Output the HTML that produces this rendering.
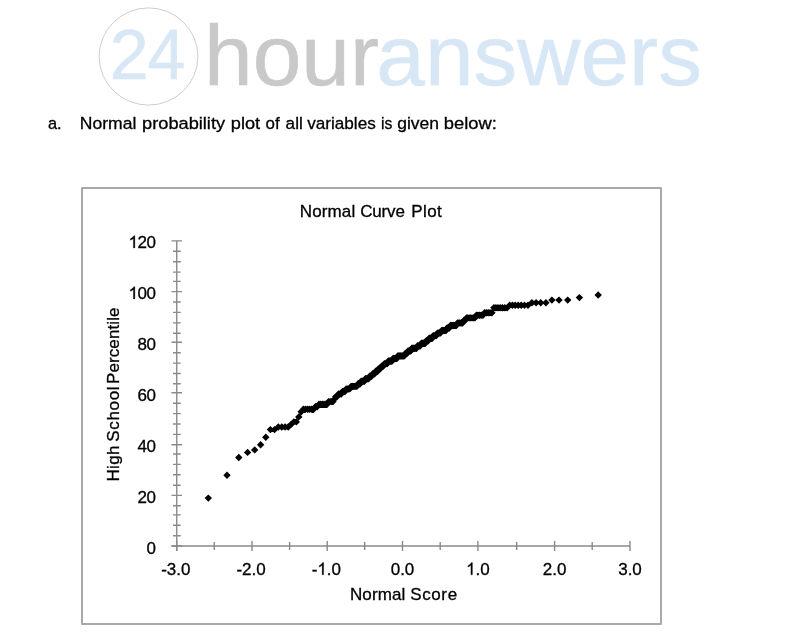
<!DOCTYPE html>
<html><head><meta charset="utf-8"><title>Normal Curve Plot</title>
<style>
html,body{margin:0;padding:0;background:#fff;}
body{width:790px;height:634px;position:relative;overflow:hidden;font-family:"Liberation Sans",sans-serif;}
svg{position:absolute;left:0;top:0;will-change:transform;}
svg text{font-family:"Liberation Sans",sans-serif;font-kerning:none;}
</style></head><body>
<svg width="790" height="634" viewBox="0 0 790 634">
<!-- watermark -->
<ellipse cx="148.5" cy="56.5" rx="49.4" ry="48.6" fill="none" stroke="#cdcdcd" stroke-width="1"/>
<g fill="#d8e7f5">
<text x="109.73" y="78.6" textLength="38.94" lengthAdjust="spacingAndGlyphs" font-size="70.5" stroke="#d8e7f5" stroke-width="0.5">2</text>
<text x="147.59" y="78.6" textLength="37.75" lengthAdjust="spacingAndGlyphs" font-size="70.5" stroke="#d8e7f5" stroke-width="0.5">4</text>
<text x="376.29" y="85.35" textLength="325.57" lengthAdjust="spacingAndGlyphs" font-size="85" stroke="#d8e7f5" stroke-width="0.6">answers</text>
</g>
<g fill="#c9c9c9"><text x="204.03" y="85.35" textLength="175.12" lengthAdjust="spacingAndGlyphs" font-size="85" stroke="#c9c9c9" stroke-width="0.6">hour</text></g>
<!-- caption -->
<g font-size="16.8" fill="#000" stroke="#000" stroke-width="0.3"><text x="47.95" y="129.1" textLength="13.70" lengthAdjust="spacingAndGlyphs">a.</text><text x="79.81" y="129.1" textLength="56.51" lengthAdjust="spacingAndGlyphs">Normal</text><text x="142.08" y="129.1" textLength="83.01" lengthAdjust="spacingAndGlyphs">probability</text><text x="230.88" y="129.1" textLength="29.30" lengthAdjust="spacingAndGlyphs">plot</text><text x="265.54" y="129.1" textLength="14.08" lengthAdjust="spacingAndGlyphs">of</text><text x="285.62" y="129.1" textLength="17.18" lengthAdjust="spacingAndGlyphs">all</text><text x="307.19" y="129.1" textLength="68.58" lengthAdjust="spacingAndGlyphs">variables</text><text x="381.09" y="129.1" textLength="11.43" lengthAdjust="spacingAndGlyphs">is</text><text x="397.21" y="129.1" textLength="41.87" lengthAdjust="spacingAndGlyphs">given</text><text x="443.76" y="129.1" textLength="53.16" lengthAdjust="spacingAndGlyphs">below:</text></g>
<!-- chart frame -->
<rect x="82" y="188" width="579" height="436" fill="#fff" stroke="#a9a9a9" stroke-width="2" stroke-linejoin="round"/>
<!-- axes -->
<path d="M176.75 240.9V551M171.5 546H630" stroke="#8a8a8a" stroke-width="1.4" fill="none"/>
<path d="M171.5 546.00H182M173 535.80H180.8M173 525.30H180.8M173 514.90H180.8M173 505.80H180.8M171.5 495.40H182M173 485.20H180.8M173 474.80H180.8M173 464.40H180.8M173 454.00H180.8M171.5 444.70H182M173 434.40H180.8M173 424.00H180.8M173 413.60H180.8M173 403.20H180.8M171.5 392.80H182M173 383.70H180.8M173 373.50H180.8M173 363.10H180.8M173 352.70H180.8M171.5 342.20H182M173 333.30H180.8M173 322.90H180.8M173 312.40H180.8M173 302.00H180.8M171.5 291.60H182M173 281.40H180.8M173 272.10H180.8M173 261.70H180.8M173 251.30H180.8M171.5 240.90H182M176.70 541V551M214.20 542V550M252.00 541V551M289.60 542V550M327.20 541V551M364.70 542V550M402.50 541V551M440.20 542V550M477.90 541V551M516.70 542V550M554.60 541V551M592.20 542V550M630.00 541V551" stroke="#8a8a8a" stroke-width="1.4" fill="none"/>
<!-- labels -->
<g font-size="17" fill="#000" stroke="#000" stroke-width="0.3">
<text x="299.86" y="216.6" textLength="55.32" lengthAdjust="spacing">Normal</text><text x="360.19" y="216.6" textLength="44.69" lengthAdjust="spacing">Curve</text><text x="411.26" y="216.6" textLength="30.53" lengthAdjust="spacing">Plot</text>
<text x="146.45" y="553.8" letter-spacing="-0.5">0</text><text x="137.49" y="502.8" letter-spacing="-0.5">20</text><text x="137.49" y="451.8" letter-spacing="-0.5">40</text><text x="137.49" y="400.9" letter-spacing="-0.5">60</text><text x="137.49" y="349.9" letter-spacing="-0.5">80</text><path transform="translate(128.54 298.9) scale(0.008301 -0.008301)" d="M763 0H583V1147Q518 1085 412.5 1023T223 930V1104Q373 1174.5 485 1275T644 1470H763Z" stroke-width="36.1"/><text x="137.49" y="298.9" letter-spacing="-0.5">00</text><path transform="translate(128.54 247.9) scale(0.008301 -0.008301)" d="M763 0H583V1147Q518 1085 412.5 1023T223 930V1104Q373 1174.5 485 1275T644 1470H763Z" stroke-width="36.1"/><text x="137.49" y="247.9" letter-spacing="-0.5">20</text>
<text x="161.15" y="574.8">-3.0</text><text x="236.45" y="574.8">-2.0</text><text x="311.65" y="574.8">-</text><path transform="translate(317.31 574.8) scale(0.008301 -0.008301)" d="M763 0H583V1147Q518 1085 412.5 1023T223 930V1104Q373 1174.5 485 1275T644 1470H763Z" stroke-width="36.1"/><text x="326.77" y="574.8">.0</text><text x="390.68" y="574.8">0.0</text><path transform="translate(466.08 574.8) scale(0.008301 -0.008301)" d="M763 0H583V1147Q518 1085 412.5 1023T223 930V1104Q373 1174.5 485 1275T644 1470H763Z" stroke-width="36.1"/><text x="475.54" y="574.8">.0</text><text x="542.78" y="574.8">2.0</text><text x="618.18" y="574.8">3.0</text>
<text x="349.96" y="599.9" textLength="55.32" lengthAdjust="spacing">Normal</text><text x="410.18" y="599.9" textLength="46.93" lengthAdjust="spacing">Score</text>
<g transform="translate(119.3 0) rotate(-90)"><text x="-481.54" y="0" textLength="35.94" lengthAdjust="spacing">High</text><text x="-441.72" y="0" textLength="55.26" lengthAdjust="spacing">School</text><text x="-384.04" y="0" textLength="76.54" lengthAdjust="spacing">Percentile</text></g>
</g>
<!-- data -->
<path d="M208.3 494.4l3.7 3.7l-3.7 3.7l-3.7-3.7zM227.0 471.5l3.7 3.7l-3.7 3.7l-3.7-3.7zM238.8 453.8l3.7 3.7l-3.7 3.7l-3.7-3.7zM247.6 448.7l3.7 3.7l-3.7 3.7l-3.7-3.7zM254.7 446.2l3.7 3.7l-3.7 3.7l-3.7-3.7zM260.6 441.1l3.7 3.7l-3.7 3.7l-3.7-3.7zM265.8 433.5l3.7 3.7l-3.7 3.7l-3.7-3.7zM270.4 425.9l3.7 3.7l-3.7 3.7l-3.7-3.7zM274.6 425.9l3.7 3.7l-3.7 3.7l-3.7-3.7zM278.3 423.3l3.7 3.7l-3.7 3.7l-3.7-3.7zM281.8 423.3l3.7 3.7l-3.7 3.7l-3.7-3.7zM285.1 423.3l3.7 3.7l-3.7 3.7l-3.7-3.7zM288.2 423.3l3.7 3.7l-3.7 3.7l-3.7-3.7zM291.0 420.8l3.7 3.7l-3.7 3.7l-3.7-3.7zM293.8 418.2l3.7 3.7l-3.7 3.7l-3.7-3.7zM296.3 418.2l3.7 3.7l-3.7 3.7l-3.7-3.7zM298.8 413.2l3.7 3.7l-3.7 3.7l-3.7-3.7zM301.2 408.1l3.7 3.7l-3.7 3.7l-3.7-3.7zM303.4 405.5l3.7 3.7l-3.7 3.7l-3.7-3.7zM305.6 405.5l3.7 3.7l-3.7 3.7l-3.7-3.7zM307.7 405.5l3.7 3.7l-3.7 3.7l-3.7-3.7zM309.7 405.5l3.7 3.7l-3.7 3.7l-3.7-3.7zM311.7 405.5l3.7 3.7l-3.7 3.7l-3.7-3.7zM313.6 405.5l3.7 3.7l-3.7 3.7l-3.7-3.7zM315.4 403.0l3.7 3.7l-3.7 3.7l-3.7-3.7zM317.2 403.0l3.7 3.7l-3.7 3.7l-3.7-3.7zM319.0 400.5l3.7 3.7l-3.7 3.7l-3.7-3.7zM320.7 400.5l3.7 3.7l-3.7 3.7l-3.7-3.7zM322.4 400.5l3.7 3.7l-3.7 3.7l-3.7-3.7zM324.0 400.5l3.7 3.7l-3.7 3.7l-3.7-3.7zM325.6 400.5l3.7 3.7l-3.7 3.7l-3.7-3.7zM327.1 400.5l3.7 3.7l-3.7 3.7l-3.7-3.7zM328.6 397.9l3.7 3.7l-3.7 3.7l-3.7-3.7zM330.1 397.9l3.7 3.7l-3.7 3.7l-3.7-3.7zM331.6 397.9l3.7 3.7l-3.7 3.7l-3.7-3.7zM333.0 397.9l3.7 3.7l-3.7 3.7l-3.7-3.7zM334.4 395.4l3.7 3.7l-3.7 3.7l-3.7-3.7zM335.8 392.9l3.7 3.7l-3.7 3.7l-3.7-3.7zM337.2 392.9l3.7 3.7l-3.7 3.7l-3.7-3.7zM338.5 390.3l3.7 3.7l-3.7 3.7l-3.7-3.7zM339.9 390.3l3.7 3.7l-3.7 3.7l-3.7-3.7zM341.2 390.3l3.7 3.7l-3.7 3.7l-3.7-3.7zM342.5 387.8l3.7 3.7l-3.7 3.7l-3.7-3.7zM343.7 387.8l3.7 3.7l-3.7 3.7l-3.7-3.7zM345.0 387.8l3.7 3.7l-3.7 3.7l-3.7-3.7zM346.2 385.2l3.7 3.7l-3.7 3.7l-3.7-3.7zM347.4 385.2l3.7 3.7l-3.7 3.7l-3.7-3.7zM348.7 385.2l3.7 3.7l-3.7 3.7l-3.7-3.7zM349.8 385.2l3.7 3.7l-3.7 3.7l-3.7-3.7zM351.0 382.7l3.7 3.7l-3.7 3.7l-3.7-3.7zM352.2 382.7l3.7 3.7l-3.7 3.7l-3.7-3.7zM353.4 382.7l3.7 3.7l-3.7 3.7l-3.7-3.7zM354.5 382.7l3.7 3.7l-3.7 3.7l-3.7-3.7zM355.6 382.7l3.7 3.7l-3.7 3.7l-3.7-3.7zM356.8 382.7l3.7 3.7l-3.7 3.7l-3.7-3.7zM357.9 380.2l3.7 3.7l-3.7 3.7l-3.7-3.7zM359.0 380.2l3.7 3.7l-3.7 3.7l-3.7-3.7zM360.1 380.2l3.7 3.7l-3.7 3.7l-3.7-3.7zM361.2 377.6l3.7 3.7l-3.7 3.7l-3.7-3.7zM362.2 377.6l3.7 3.7l-3.7 3.7l-3.7-3.7zM363.3 377.6l3.7 3.7l-3.7 3.7l-3.7-3.7zM364.4 377.6l3.7 3.7l-3.7 3.7l-3.7-3.7zM365.4 375.1l3.7 3.7l-3.7 3.7l-3.7-3.7zM366.5 375.1l3.7 3.7l-3.7 3.7l-3.7-3.7zM367.5 375.1l3.7 3.7l-3.7 3.7l-3.7-3.7zM368.6 375.1l3.7 3.7l-3.7 3.7l-3.7-3.7zM369.6 372.6l3.7 3.7l-3.7 3.7l-3.7-3.7zM370.6 372.6l3.7 3.7l-3.7 3.7l-3.7-3.7zM371.6 372.6l3.7 3.7l-3.7 3.7l-3.7-3.7zM372.7 370.0l3.7 3.7l-3.7 3.7l-3.7-3.7zM373.7 370.0l3.7 3.7l-3.7 3.7l-3.7-3.7zM374.7 370.0l3.7 3.7l-3.7 3.7l-3.7-3.7zM375.7 367.5l3.7 3.7l-3.7 3.7l-3.7-3.7zM376.7 367.5l3.7 3.7l-3.7 3.7l-3.7-3.7zM377.7 367.5l3.7 3.7l-3.7 3.7l-3.7-3.7zM378.7 364.9l3.7 3.7l-3.7 3.7l-3.7-3.7zM379.6 364.9l3.7 3.7l-3.7 3.7l-3.7-3.7zM380.6 364.9l3.7 3.7l-3.7 3.7l-3.7-3.7zM381.6 362.4l3.7 3.7l-3.7 3.7l-3.7-3.7zM382.6 362.4l3.7 3.7l-3.7 3.7l-3.7-3.7zM383.5 362.4l3.7 3.7l-3.7 3.7l-3.7-3.7zM384.5 359.9l3.7 3.7l-3.7 3.7l-3.7-3.7zM385.5 359.9l3.7 3.7l-3.7 3.7l-3.7-3.7zM386.4 359.9l3.7 3.7l-3.7 3.7l-3.7-3.7zM387.4 359.9l3.7 3.7l-3.7 3.7l-3.7-3.7zM388.3 357.3l3.7 3.7l-3.7 3.7l-3.7-3.7zM389.3 357.3l3.7 3.7l-3.7 3.7l-3.7-3.7zM390.3 357.3l3.7 3.7l-3.7 3.7l-3.7-3.7zM391.2 357.3l3.7 3.7l-3.7 3.7l-3.7-3.7zM392.1 357.3l3.7 3.7l-3.7 3.7l-3.7-3.7zM393.1 354.8l3.7 3.7l-3.7 3.7l-3.7-3.7zM394.0 354.8l3.7 3.7l-3.7 3.7l-3.7-3.7zM395.0 354.8l3.7 3.7l-3.7 3.7l-3.7-3.7zM395.9 354.8l3.7 3.7l-3.7 3.7l-3.7-3.7zM396.9 354.8l3.7 3.7l-3.7 3.7l-3.7-3.7zM397.8 352.2l3.7 3.7l-3.7 3.7l-3.7-3.7zM398.7 352.2l3.7 3.7l-3.7 3.7l-3.7-3.7zM399.7 352.2l3.7 3.7l-3.7 3.7l-3.7-3.7zM400.6 352.2l3.7 3.7l-3.7 3.7l-3.7-3.7zM401.6 352.2l3.7 3.7l-3.7 3.7l-3.7-3.7zM402.5 352.2l3.7 3.7l-3.7 3.7l-3.7-3.7zM403.4 352.2l3.7 3.7l-3.7 3.7l-3.7-3.7zM404.4 352.2l3.7 3.7l-3.7 3.7l-3.7-3.7zM405.3 349.7l3.7 3.7l-3.7 3.7l-3.7-3.7zM406.2 349.7l3.7 3.7l-3.7 3.7l-3.7-3.7zM407.2 349.7l3.7 3.7l-3.7 3.7l-3.7-3.7zM408.1 347.2l3.7 3.7l-3.7 3.7l-3.7-3.7zM409.1 347.2l3.7 3.7l-3.7 3.7l-3.7-3.7zM410.0 347.2l3.7 3.7l-3.7 3.7l-3.7-3.7zM410.9 347.2l3.7 3.7l-3.7 3.7l-3.7-3.7zM411.9 344.6l3.7 3.7l-3.7 3.7l-3.7-3.7zM412.8 344.6l3.7 3.7l-3.7 3.7l-3.7-3.7zM413.8 344.6l3.7 3.7l-3.7 3.7l-3.7-3.7zM414.7 344.6l3.7 3.7l-3.7 3.7l-3.7-3.7zM415.7 344.6l3.7 3.7l-3.7 3.7l-3.7-3.7zM416.6 344.6l3.7 3.7l-3.7 3.7l-3.7-3.7zM417.6 342.1l3.7 3.7l-3.7 3.7l-3.7-3.7zM418.5 342.1l3.7 3.7l-3.7 3.7l-3.7-3.7zM419.5 342.1l3.7 3.7l-3.7 3.7l-3.7-3.7zM420.4 342.1l3.7 3.7l-3.7 3.7l-3.7-3.7zM421.4 339.6l3.7 3.7l-3.7 3.7l-3.7-3.7zM422.4 339.6l3.7 3.7l-3.7 3.7l-3.7-3.7zM423.3 339.6l3.7 3.7l-3.7 3.7l-3.7-3.7zM424.3 339.6l3.7 3.7l-3.7 3.7l-3.7-3.7zM425.3 339.6l3.7 3.7l-3.7 3.7l-3.7-3.7zM426.3 337.0l3.7 3.7l-3.7 3.7l-3.7-3.7zM427.3 337.0l3.7 3.7l-3.7 3.7l-3.7-3.7zM428.3 337.0l3.7 3.7l-3.7 3.7l-3.7-3.7zM429.2 334.5l3.7 3.7l-3.7 3.7l-3.7-3.7zM430.2 334.5l3.7 3.7l-3.7 3.7l-3.7-3.7zM431.3 334.5l3.7 3.7l-3.7 3.7l-3.7-3.7zM432.3 334.5l3.7 3.7l-3.7 3.7l-3.7-3.7zM433.3 331.9l3.7 3.7l-3.7 3.7l-3.7-3.7zM434.3 331.9l3.7 3.7l-3.7 3.7l-3.7-3.7zM435.3 331.9l3.7 3.7l-3.7 3.7l-3.7-3.7zM436.4 331.9l3.7 3.7l-3.7 3.7l-3.7-3.7zM437.4 329.4l3.7 3.7l-3.7 3.7l-3.7-3.7zM438.4 329.4l3.7 3.7l-3.7 3.7l-3.7-3.7zM439.5 329.4l3.7 3.7l-3.7 3.7l-3.7-3.7zM440.5 329.4l3.7 3.7l-3.7 3.7l-3.7-3.7zM441.6 326.9l3.7 3.7l-3.7 3.7l-3.7-3.7zM442.7 326.9l3.7 3.7l-3.7 3.7l-3.7-3.7zM443.8 326.9l3.7 3.7l-3.7 3.7l-3.7-3.7zM444.9 326.9l3.7 3.7l-3.7 3.7l-3.7-3.7zM446.0 326.9l3.7 3.7l-3.7 3.7l-3.7-3.7zM447.1 324.3l3.7 3.7l-3.7 3.7l-3.7-3.7zM448.2 324.3l3.7 3.7l-3.7 3.7l-3.7-3.7zM449.3 324.3l3.7 3.7l-3.7 3.7l-3.7-3.7zM450.5 321.8l3.7 3.7l-3.7 3.7l-3.7-3.7zM451.6 321.8l3.7 3.7l-3.7 3.7l-3.7-3.7zM452.8 321.8l3.7 3.7l-3.7 3.7l-3.7-3.7zM453.9 321.8l3.7 3.7l-3.7 3.7l-3.7-3.7zM455.1 321.8l3.7 3.7l-3.7 3.7l-3.7-3.7zM456.3 321.8l3.7 3.7l-3.7 3.7l-3.7-3.7zM457.5 319.3l3.7 3.7l-3.7 3.7l-3.7-3.7zM458.8 319.3l3.7 3.7l-3.7 3.7l-3.7-3.7zM460.0 319.3l3.7 3.7l-3.7 3.7l-3.7-3.7zM461.3 319.3l3.7 3.7l-3.7 3.7l-3.7-3.7zM462.6 319.3l3.7 3.7l-3.7 3.7l-3.7-3.7zM463.8 316.7l3.7 3.7l-3.7 3.7l-3.7-3.7zM465.2 316.7l3.7 3.7l-3.7 3.7l-3.7-3.7zM466.5 314.2l3.7 3.7l-3.7 3.7l-3.7-3.7zM467.8 314.2l3.7 3.7l-3.7 3.7l-3.7-3.7zM469.2 314.2l3.7 3.7l-3.7 3.7l-3.7-3.7zM470.6 314.2l3.7 3.7l-3.7 3.7l-3.7-3.7zM472.0 314.2l3.7 3.7l-3.7 3.7l-3.7-3.7zM473.5 314.2l3.7 3.7l-3.7 3.7l-3.7-3.7zM474.9 314.2l3.7 3.7l-3.7 3.7l-3.7-3.7zM476.4 311.6l3.7 3.7l-3.7 3.7l-3.7-3.7zM478.0 311.6l3.7 3.7l-3.7 3.7l-3.7-3.7zM479.6 311.6l3.7 3.7l-3.7 3.7l-3.7-3.7zM481.2 311.6l3.7 3.7l-3.7 3.7l-3.7-3.7zM482.9 311.6l3.7 3.7l-3.7 3.7l-3.7-3.7zM484.6 309.1l3.7 3.7l-3.7 3.7l-3.7-3.7zM486.4 309.1l3.7 3.7l-3.7 3.7l-3.7-3.7zM488.2 309.1l3.7 3.7l-3.7 3.7l-3.7-3.7zM490.0 309.1l3.7 3.7l-3.7 3.7l-3.7-3.7zM491.9 309.1l3.7 3.7l-3.7 3.7l-3.7-3.7zM493.9 304.0l3.7 3.7l-3.7 3.7l-3.7-3.7zM495.9 304.0l3.7 3.7l-3.7 3.7l-3.7-3.7zM498.0 304.0l3.7 3.7l-3.7 3.7l-3.7-3.7zM500.2 304.0l3.7 3.7l-3.7 3.7l-3.7-3.7zM502.4 304.0l3.7 3.7l-3.7 3.7l-3.7-3.7zM504.8 304.0l3.7 3.7l-3.7 3.7l-3.7-3.7zM507.2 304.0l3.7 3.7l-3.7 3.7l-3.7-3.7zM509.7 301.5l3.7 3.7l-3.7 3.7l-3.7-3.7zM512.4 301.5l3.7 3.7l-3.7 3.7l-3.7-3.7zM515.2 301.5l3.7 3.7l-3.7 3.7l-3.7-3.7zM518.2 301.5l3.7 3.7l-3.7 3.7l-3.7-3.7zM521.2 301.5l3.7 3.7l-3.7 3.7l-3.7-3.7zM524.5 301.5l3.7 3.7l-3.7 3.7l-3.7-3.7zM528.0 301.5l3.7 3.7l-3.7 3.7l-3.7-3.7zM531.9 299.0l3.7 3.7l-3.7 3.7l-3.7-3.7zM536.1 299.0l3.7 3.7l-3.7 3.7l-3.7-3.7zM540.7 299.0l3.7 3.7l-3.7 3.7l-3.7-3.7zM545.9 299.0l3.7 3.7l-3.7 3.7l-3.7-3.7zM551.9 296.4l3.7 3.7l-3.7 3.7l-3.7-3.7zM559.0 296.4l3.7 3.7l-3.7 3.7l-3.7-3.7zM567.7 296.4l3.7 3.7l-3.7 3.7l-3.7-3.7zM579.4 293.9l3.7 3.7l-3.7 3.7l-3.7-3.7zM598.2 291.3l3.7 3.7l-3.7 3.7l-3.7-3.7z" fill="#000"/>
</svg>
</body></html>
